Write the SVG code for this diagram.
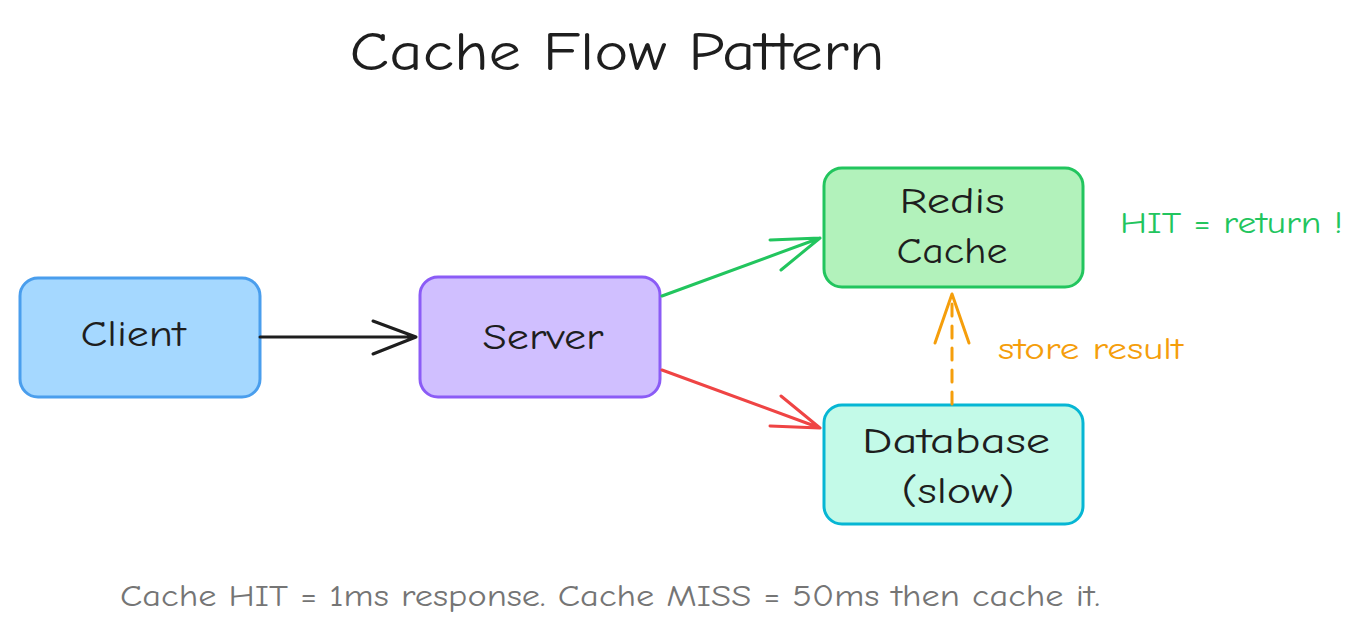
<svg xmlns="http://www.w3.org/2000/svg" width="1364" height="637" viewBox="0 0 1364 637">
<style>
text{font-family:"Comic Neue","Liberation Sans",sans-serif;}
.t{font-size:36px;fill:#1e1e1e;text-anchor:middle;}
.box{stroke-width:3;}
.c{fill:none;stroke-width:3;stroke-linecap:round;stroke-linejoin:round;}
</style>
<rect width="1364" height="637" fill="#ffffff"/>
<text x="617" y="70" font-size="54" fill="#1e1e1e" text-anchor="middle" textLength="535" lengthAdjust="spacingAndGlyphs">Cache Flow Pattern</text>
<g id="client"><rect class="box" x="20" y="278" width="240" height="119" rx="18" fill="#a5d8ff" stroke="#4a9eed"/><text class="t" x="133" y="346" textLength="105" lengthAdjust="spacingAndGlyphs">Client</text></g>
<g id="server"><rect class="box" x="420" y="277" width="240" height="120" rx="18" fill="#d0bfff" stroke="#8b5cf6"/><text class="t" x="543" y="349" textLength="121" lengthAdjust="spacingAndGlyphs">Server</text></g>
<g id="redis"><rect class="box" x="824" y="168" width="259" height="119" rx="18" fill="#b2f2bb" stroke="#22c55e"/><text class="t" x="952" y="213" textLength="105" lengthAdjust="spacingAndGlyphs">Redis</text><text class="t" x="952" y="263" textLength="111" lengthAdjust="spacingAndGlyphs">Cache</text></g>
<g id="db"><rect class="box" x="824" y="405" width="259" height="119" rx="18" fill="#c3fae8" stroke="#06b6d4"/><text class="t" x="956" y="453" textLength="188" lengthAdjust="spacingAndGlyphs">Database</text><text class="t" x="958" y="503" textLength="113" lengthAdjust="spacingAndGlyphs">(slow)</text></g>
<g id="connectors">
<path class="c" stroke="#1e1e1e" d="M260 337 L416 337 M373 321 L416 337 L373 354"/>
<path class="c" stroke="#22c55e" d="M662 296 L820 238 M770 240 L820 238 L781 270"/>
<path class="c" stroke="#ef4444" d="M662 370 L820 428 M781 396 L820 428 L770 426"/>
<path class="c" stroke="#f59e0b" stroke-dasharray="12 10" d="M952 404 L952 294"/>
<path class="c" stroke="#f59e0b" d="M935 343 L952 294 L969 343"/>
</g>
<text x="1120" y="233" font-size="30" fill="#22c55e" textLength="223" lengthAdjust="spacingAndGlyphs">HIT = return !</text>
<text x="998" y="359" font-size="30" fill="#f59e0b" textLength="185" lengthAdjust="spacingAndGlyphs">store result</text>
<text x="120" y="606" font-size="30" fill="#757575" textLength="980" lengthAdjust="spacingAndGlyphs">Cache HIT = 1ms response.  Cache MISS = 50ms then cache it.</text>
</svg>
